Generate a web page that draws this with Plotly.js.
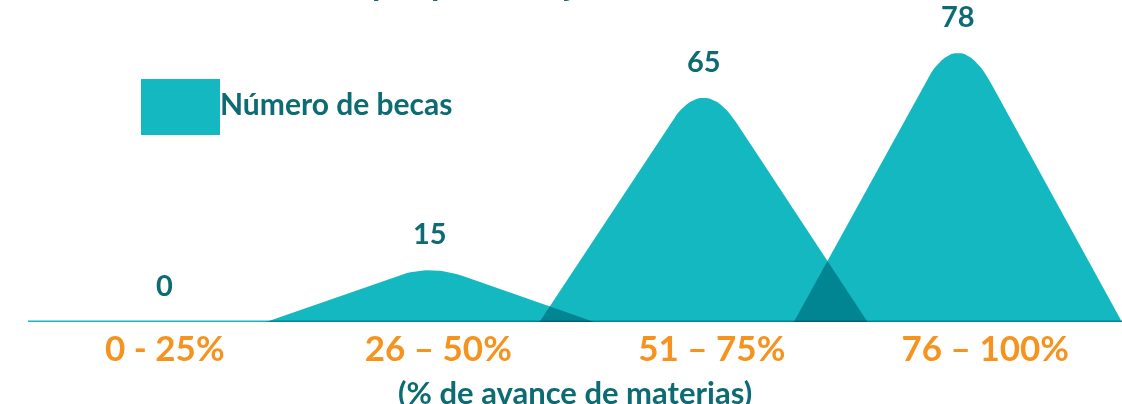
<!DOCTYPE html>
<html><head><meta charset="utf-8">
<script src="https://cdn.plot.ly/plotly-3.0.1.min.js"></script>
<style>
html,body{margin:0;padding:0;background:#fff;overflow:hidden;}
#chart{width:1122px;height:404px;}
.scatterlayer .trace{mix-blend-mode:multiply;}
</style></head><body><div id="chart"></div>
<script>
// ---- data ----
const categories = ['0 - 25%', '26 – 50%', '51 – 75%', '76 – 100%'];
const becas = [0, 15, 65, 78];
const seriesName = 'Número de becas';
const axisTitle = '(% de avance de materias)';
const titleFragment = 'por porcentaje';

// ---- style ----
const TEAL = '#14B8C1';
const DARK = '#0C6B73';
const ORANGE = '#F6921E';
const FONT = 'Lato, "Open Sans", sans-serif';
const halfWidth = 0.6;      // mountain half base, in category units
const round = 0.2;          // fraction of each side used for the rounded peak
const peakShift = [0, -0.03, -0.03, -0.1];

function mountain(c, v) {
  const L = [c - halfWidth, 0], P = [c, v], R = [c + halfWidth, 0];
  const A = [P[0] + round * (L[0] - P[0]), P[1] + round * (L[1] - P[1])];
  const B = [P[0] + round * (R[0] - P[0]), P[1] + round * (R[1] - P[1])];
  const xs = [L[0]], ys = [L[1]];
  const n = 20;
  for (let k = 0; k <= n; k++) {
    const t = k / n, a = (1 - t) * (1 - t), b = 2 * t * (1 - t), d = t * t;
    xs.push(a * A[0] + b * P[0] + d * B[0]);
    ys.push(a * A[1] + b * P[1] + d * B[1]);
  }
  xs.push(R[0]); ys.push(R[1]);
  xs.push(L[0]); ys.push(L[1]);
  return {x: xs, y: ys};
}

const traces = [];
becas.forEach((v, i) => {
  if (v <= 0) return;
  const m = mountain(i + peakShift[i], v);
  traces.push({
    type: 'scatter', mode: 'lines', x: m.x, y: m.y,
    fill: 'toself', fillcolor: TEAL, line: {width: 0, color: TEAL},
    hoverinfo: 'skip', showlegend: false
  });
});
// baseline
traces.push({
  type: 'scatter', mode: 'lines', x: [-0.5, 3.5], y: [0, 0],
  line: {color: TEAL, width: 3}, hoverinfo: 'skip', showlegend: false
});

const annotations = becas.map((v, i) => ({
  x: i + peakShift[i], y: v * (1 - round / 2), xref: 'x', yref: 'y',
  text: '<b>' + v + '</b>', showarrow: false, yanchor: 'bottom', yshift: 18,
  font: {family: FONT, size: 29, color: DARK}
}));
annotations.push({
  x: 0.5, y: 0, xref: 'paper', yref: 'paper', yanchor: 'top', yshift: -49,
  text: '<b>' + axisTitle + '</b>', showarrow: false,
  font: {family: FONT, size: 31, color: DARK}
});
annotations.push({
  x: 0.174, y: 0.68, xref: 'paper', yref: 'paper', xanchor: 'left', yanchor: 'middle',
  text: '<b>' + seriesName + '</b>', showarrow: false,
  font: {family: FONT, size: 30, color: DARK}
});
annotations.push({
  x: 0.3125, y: 1, xref: 'paper', yref: 'paper', xanchor: 'left', yanchor: 'bottom', yshift: -4,
  text: '<b>' + titleFragment + '</b>', showarrow: false,
  font: {family: FONT, size: 34, color: DARK}
});

const layout = {
  width: 1122, height: 404,
  margin: {l: 28, r: 0, t: 0, b: 82},
  paper_bgcolor: '#fff', plot_bgcolor: '#fff',
  showlegend: false,
  xaxis: {
    range: [-0.5, 3.5], tickvals: [0, 1, 2, 3], ticktext: categories.map(c => '<b>' + c + '</b>'),
    showgrid: false, zeroline: false, showline: false, ticks: '',
    tickfont: {family: FONT, size: 35, color: ORANGE}, ticklabelstandoff: 3, fixedrange: true
  },
  yaxis: {range: [0, 84], visible: false, fixedrange: true},
  shapes: [{
    type: 'rect', xref: 'paper', yref: 'paper',
    x0: 0.1033, x1: 0.1755, y0: 0.5807, y1: 0.7547,
    fillcolor: TEAL, line: {width: 0}
  }],
  annotations: annotations
};

Plotly.newPlot('chart', traces, layout, {staticPlot: true, displayModeBar: false});
</script></body></html>
